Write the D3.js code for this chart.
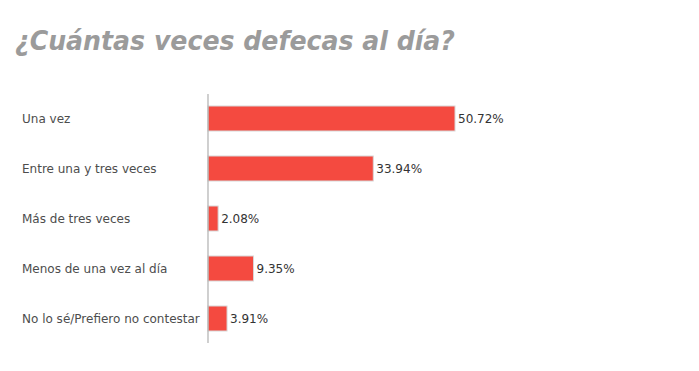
<!DOCTYPE html>
<html><head><meta charset="utf-8">
<script src="https://cdn.jsdelivr.net/npm/d3@7"></script>
<style>body{margin:0;background:#fff}</style>
</head><body>
<script>
const title = "¿Cuántas veces defecas al día?";
const categories = ["Una vez","Entre una y tres veces","Más de tres veces","Menos de una vez al día","No lo sé/Prefiero no contestar"];
const values = [50.72, 33.94, 2.08, 9.35, 3.91];

const W = 699, H = 371;
const svg = d3.select("body").append("svg").attr("width", W).attr("height", H);

svg.append("text").attr("x", 15).attr("y", 50)
  .attr("font-family", "DejaVu Sans").attr("font-size", 26).attr("font-weight", "bold")
  .attr("font-style", "italic").attr("fill", "#9b9b9b")
  .attr("textLength", 440).attr("lengthAdjust", "spacingAndGlyphs").text(title);

const x = d3.scaleLinear().domain([0, 100]).range([208, 695]);
const y = d3.scaleBand().domain(categories).range([93.5, 343.5]).paddingInner(0.5).paddingOuter(0.25);

const data = categories.map((c, i) => ({c, v: values[i]}));

svg.selectAll("rect.bar").data(data).join("rect").attr("class", "bar")
  .attr("x", x(0)).attr("y", d => y(d.c))
  .attr("width", d => x(d.v) - x(0)).attr("height", y.bandwidth())
  .attr("fill", "#f44a40").attr("stroke", "#d8d8d8").attr("stroke-width", 1);

svg.append("line").attr("x1", x(0)).attr("x2", x(0)).attr("y1", 94).attr("y2", 343)
  .attr("stroke", "#b0b0b0").attr("stroke-width", 1.2);

svg.selectAll("text.cat").data(data).join("text").attr("class", "cat")
  .attr("x", 22).attr("y", d => y(d.c) + y.bandwidth() / 2).attr("dy", "0.35em")
  .attr("font-family", "DejaVu Sans").attr("font-size", 12).attr("fill", "#4d4d4d")
  .text(d => d.c);

svg.selectAll("text.val").data(data).join("text").attr("class", "val")
  .attr("x", d => x(d.v) + 3).attr("y", d => y(d.c) + y.bandwidth() / 2).attr("dy", "0.36em")
  .attr("font-family", "DejaVu Sans").attr("font-size", 12).attr("fill", "#333")
  .text(d => d.v.toFixed(2) + "%");
</script>
</body></html>
